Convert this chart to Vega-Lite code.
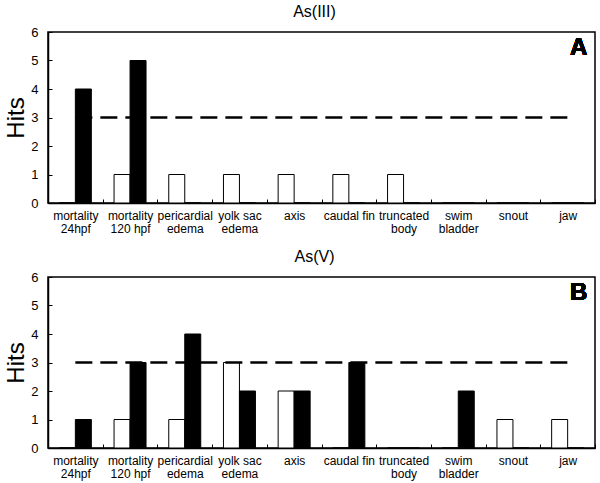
{
  "$schema": "https://vega.github.io/schema/vega-lite/v6.json",
  "background": "white",
  "padding": {"left": 4, "top": 3, "right": 4, "bottom": 2},
  "spacing": 12,
  "config": {
    "font": "Liberation Sans",
    "view": {"stroke": "black", "strokeWidth": 1.5},
    "axis": {"domainColor": "black", "domainWidth": 1.5, "tickColor": "black", "labelColor": "black", "titleColor": "black", "grid": false},
    "axisY": {"tickCount": 7, "labelOverlap": false, "tickSize": -4, "labelPadding": 14, "labelFontSize": 13, "titleFontSize": 24, "titleFontWeight": "normal", "titlePadding": 2},
    "title": {"fontSize": 16, "fontWeight": "normal", "color": "black"}
  },
  "datasets": {
    "hits": [
      {"panel": "A", "cat": "mortality|24hpf", "series": "white", "value": 0},
      {"panel": "A", "cat": "mortality|24hpf", "series": "black", "value": 4},
      {"panel": "A", "cat": "mortality|120 hpf", "series": "white", "value": 1},
      {"panel": "A", "cat": "mortality|120 hpf", "series": "black", "value": 5},
      {"panel": "A", "cat": "pericardial|edema", "series": "white", "value": 1},
      {"panel": "A", "cat": "pericardial|edema", "series": "black", "value": 0},
      {"panel": "A", "cat": "yolk sac|edema", "series": "white", "value": 1},
      {"panel": "A", "cat": "yolk sac|edema", "series": "black", "value": 0},
      {"panel": "A", "cat": "axis", "series": "white", "value": 1},
      {"panel": "A", "cat": "axis", "series": "black", "value": 0},
      {"panel": "A", "cat": "caudal fin", "series": "white", "value": 1},
      {"panel": "A", "cat": "caudal fin", "series": "black", "value": 0},
      {"panel": "A", "cat": "truncated|body", "series": "white", "value": 1},
      {"panel": "A", "cat": "truncated|body", "series": "black", "value": 0},
      {"panel": "A", "cat": "swim|bladder", "series": "white", "value": 0},
      {"panel": "A", "cat": "swim|bladder", "series": "black", "value": 0},
      {"panel": "A", "cat": "snout", "series": "white", "value": 0},
      {"panel": "A", "cat": "snout", "series": "black", "value": 0},
      {"panel": "A", "cat": "jaw", "series": "white", "value": 0},
      {"panel": "A", "cat": "jaw", "series": "black", "value": 0},
      {"panel": "B", "cat": "mortality|24hpf", "series": "white", "value": 0},
      {"panel": "B", "cat": "mortality|24hpf", "series": "black", "value": 1},
      {"panel": "B", "cat": "mortality|120 hpf", "series": "white", "value": 1},
      {"panel": "B", "cat": "mortality|120 hpf", "series": "black", "value": 3},
      {"panel": "B", "cat": "pericardial|edema", "series": "white", "value": 1},
      {"panel": "B", "cat": "pericardial|edema", "series": "black", "value": 4},
      {"panel": "B", "cat": "yolk sac|edema", "series": "white", "value": 3},
      {"panel": "B", "cat": "yolk sac|edema", "series": "black", "value": 2},
      {"panel": "B", "cat": "axis", "series": "white", "value": 2},
      {"panel": "B", "cat": "axis", "series": "black", "value": 2},
      {"panel": "B", "cat": "caudal fin", "series": "white", "value": 0},
      {"panel": "B", "cat": "caudal fin", "series": "black", "value": 3},
      {"panel": "B", "cat": "truncated|body", "series": "white", "value": 0},
      {"panel": "B", "cat": "truncated|body", "series": "black", "value": 0},
      {"panel": "B", "cat": "swim|bladder", "series": "white", "value": 0},
      {"panel": "B", "cat": "swim|bladder", "series": "black", "value": 2},
      {"panel": "B", "cat": "snout", "series": "white", "value": 1},
      {"panel": "B", "cat": "snout", "series": "black", "value": 0},
      {"panel": "B", "cat": "jaw", "series": "white", "value": 1},
      {"panel": "B", "cat": "jaw", "series": "black", "value": 0}
    ]
  },
  "vconcat": [
    {
      "title": {"text": "As(III)", "dx": -7, "offset": 6},
      "width": 547,
      "height": 171,
      "data": {"name": "hits"},
      "transform": [{"filter": "datum.panel === 'A'"}],
      "layer": [
        {
          "mark": {"type": "bar", "stroke": "black", "strokeWidth": 1},
          "encoding": {
            "x": {"field": "cat", "type": "nominal",
              "sort": ["mortality|24hpf", "mortality|120 hpf", "pericardial|edema", "yolk sac|edema", "axis", "caudal fin", "truncated|body", "swim|bladder", "snout", "jaw"],
              "scale": {"paddingInner": 0, "paddingOuter": 0},
              "axis": {"title": null, "labelExpr": "split(datum.label, '|')", "labelAngle": 0, "tickBand": "extent", "tickSize": -4, "labelPadding": 11, "labelFontSize": 12, "labelLineHeight": 13.5, "labelOverlap": false, "labelLimit": 100}},
            "xOffset": {"field": "series", "type": "nominal", "sort": ["white", "black"], "scale": {"paddingInner": 0, "paddingOuter": 0.71}},
            "y": {"field": "value", "type": "quantitative", "scale": {"domain": [0, 6], "nice": false}, "title": "Hits",
              "axis": {"titleFontSize": 24, "titleFontWeight": "normal"}},
            "fill": {"field": "series", "type": "nominal", "scale": {"domain": ["white", "black"], "range": ["white", "black"]}, "legend": null}
          }
        },
        {
          "transform": [{"filter": "datum.series === 'white'"}],
          "mark": {"type": "line", "color": "black", "strokeWidth": 2.5, "strokeDash": [17, 8]},
          "encoding": {
            "x": {"field": "cat", "type": "nominal", "sort": ["mortality|24hpf", "mortality|120 hpf", "pericardial|edema", "yolk sac|edema", "axis", "caudal fin", "truncated|body", "swim|bladder", "snout", "jaw"]},
            "y": {"datum": 3, "type": "quantitative", "title": "Hits", "axis": {"titleFontSize": 24, "titleFontWeight": "normal"}}
          }
        },
        {
          "mark": {"type": "text", "text": "A", "fontSize": 24, "fontWeight": "bold", "align": "center", "baseline": "middle", "dx": 11},
          "encoding": {"x": {"datum": "jaw"}, "y": {"datum": 5.45, "type": "quantitative", "title": "Hits", "axis": {"titleFontSize": 24, "titleFontWeight": "normal"}}}
        }
      ]
    },
    {
      "title": {"text": "As(V)", "dx": -7, "offset": 6},
      "width": 547,
      "height": 171,
      "data": {"name": "hits"},
      "transform": [{"filter": "datum.panel === 'B'"}],
      "layer": [
        {
          "mark": {"type": "bar", "stroke": "black", "strokeWidth": 1},
          "encoding": {
            "x": {"field": "cat", "type": "nominal",
              "sort": ["mortality|24hpf", "mortality|120 hpf", "pericardial|edema", "yolk sac|edema", "axis", "caudal fin", "truncated|body", "swim|bladder", "snout", "jaw"],
              "scale": {"paddingInner": 0, "paddingOuter": 0},
              "axis": {"title": null, "labelExpr": "split(datum.label, '|')", "labelAngle": 0, "tickBand": "extent", "tickSize": -4, "labelPadding": 11, "labelFontSize": 12, "labelLineHeight": 13.5, "labelOverlap": false, "labelLimit": 100}},
            "xOffset": {"field": "series", "type": "nominal", "sort": ["white", "black"], "scale": {"paddingInner": 0, "paddingOuter": 0.71}},
            "y": {"field": "value", "type": "quantitative", "scale": {"domain": [0, 6], "nice": false}, "title": "Hits",
              "axis": {"titleFontSize": 24, "titleFontWeight": "normal"}},
            "fill": {"field": "series", "type": "nominal", "scale": {"domain": ["white", "black"], "range": ["white", "black"]}, "legend": null}
          }
        },
        {
          "transform": [{"filter": "datum.series === 'white'"}],
          "mark": {"type": "line", "color": "black", "strokeWidth": 2.5, "strokeDash": [17, 8]},
          "encoding": {
            "x": {"field": "cat", "type": "nominal", "sort": ["mortality|24hpf", "mortality|120 hpf", "pericardial|edema", "yolk sac|edema", "axis", "caudal fin", "truncated|body", "swim|bladder", "snout", "jaw"]},
            "y": {"datum": 3, "type": "quantitative", "title": "Hits", "axis": {"titleFontSize": 24, "titleFontWeight": "normal"}}
          }
        },
        {
          "mark": {"type": "text", "text": "B", "fontSize": 24, "fontWeight": "bold", "align": "center", "baseline": "middle", "dx": 11},
          "encoding": {"x": {"datum": "jaw"}, "y": {"datum": 5.45, "type": "quantitative", "title": "Hits", "axis": {"titleFontSize": 24, "titleFontWeight": "normal"}}}
        }
      ]
    }
  ]
}
